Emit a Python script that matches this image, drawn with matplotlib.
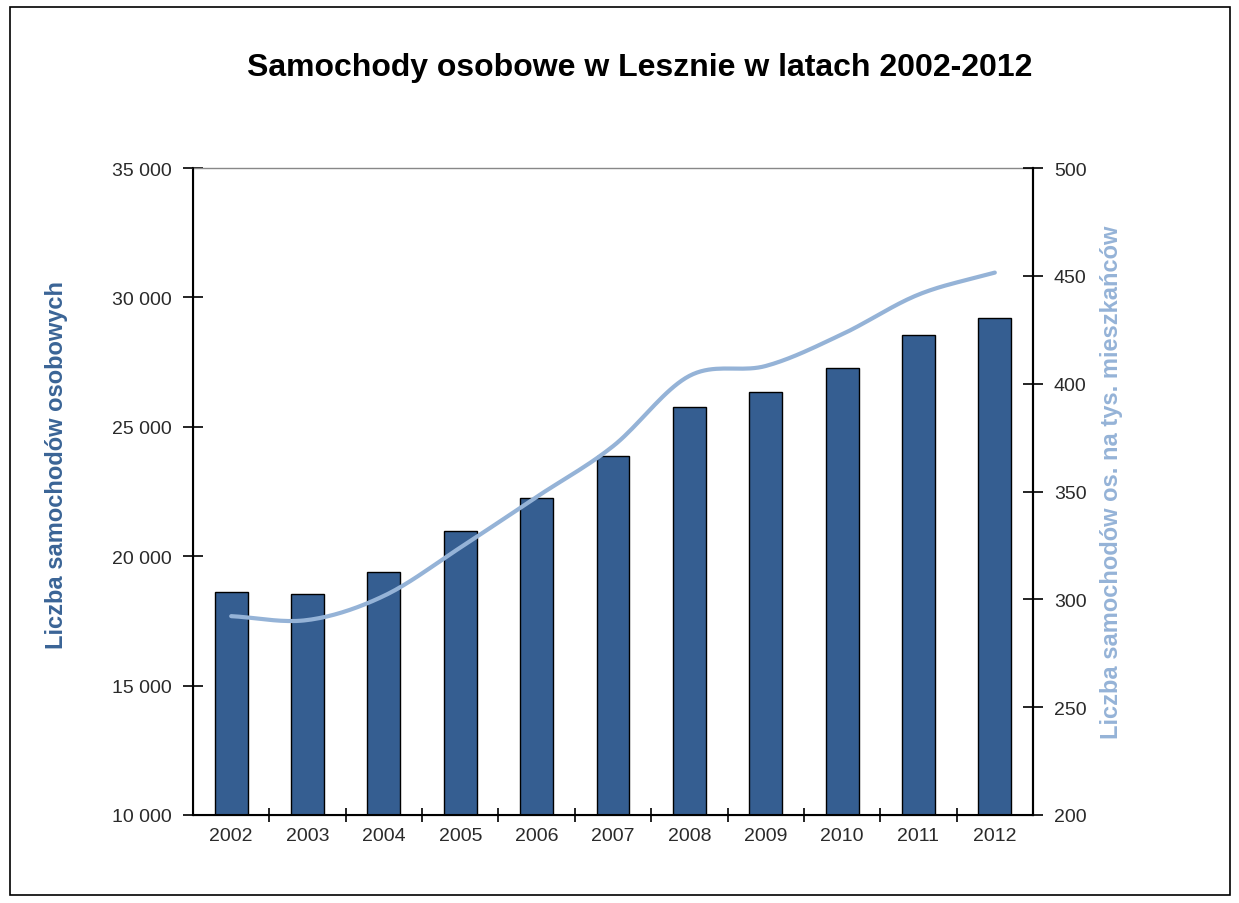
import numpy as np
import matplotlib.pyplot as plt
from matplotlib.patches import Rectangle

plt.rcParams['font.family'] = ['Liberation Sans', 'DejaVu Sans']

# Data
years = ['2002', '2003', '2004', '2005', '2006', '2007',
         '2008', '2009', '2010', '2011', '2012']
cars = [18600, 18530, 19400, 20960, 22250, 23870,
        25770, 26330, 27270, 28560, 29220]
cars_per_1000 = [292.2, 290.4, 301.6, 324.0, 347.5, 371.0,
                 403.6, 408.2, 422.9, 441.3, 451.5]

bar_color = '#355E91'
line_color = '#95B3D7'


def smooth(x, y, n=20):
    # Catmull-Rom curve through the points (like Excel smoothed line)
    x = np.asarray(x, float)
    y = np.asarray(y, float)
    px = np.concatenate([[2 * x[0] - x[1]], x, [2 * x[-1] - x[-2]]])
    py = np.concatenate([[2 * y[0] - y[1]], y, [2 * y[-1] - y[-2]]])
    xs, ys = [], []
    t = np.linspace(0, 1, n, endpoint=False)
    for i in range(1, len(px) - 2):
        for p, out in ((px, xs), (py, ys)):
            p0, p1, p2, p3 = p[i - 1], p[i], p[i + 1], p[i + 2]
            out.extend(0.5 * ((2 * p1) + (-p0 + p2) * t
                              + (2 * p0 - 5 * p1 + 4 * p2 - p3) * t ** 2
                              + (-p0 + 3 * p1 - 3 * p2 + p3) * t ** 3))
    xs.append(x[-1])
    ys.append(y[-1])
    return np.array(xs), np.array(ys)


fig = plt.figure(figsize=(12.39, 9.04), dpi=100)
fig.patches.append(Rectangle((0.008, 0.009), 0.985, 0.982, transform=fig.transFigure,
                             fill=False, edgecolor='black', linewidth=1.2))

ax = fig.add_axes([193 / 1239, 1 - 816 / 904, 840 / 1239, 647 / 904])
x = np.arange(len(years))
ax.bar(x, cars, width=0.43, color=bar_color, edgecolor='black', linewidth=1.0, zorder=2)
ax.set_xlim(-0.5, len(years) - 0.5)
ax.set_ylim(10000, 35000)
ax.set_yticks(np.arange(10000, 35001, 5000))
ax.set_yticklabels([f'{v:,}'.replace(',', ' ') for v in range(10000, 35001, 5000)])
ax.set_xticks(x)
ax.set_xticklabels(years)
ax.set_xticks(np.arange(0.5, len(years) - 1, 1), minor=True)
ax.tick_params(axis='x', which='major', length=0, labelsize=14, pad=9, colors='#2a2a2a')
ax.tick_params(axis='x', which='minor', direction='inout', length=10, width=1.2)
ax.tick_params(axis='y', direction='inout', length=14, width=1.2, labelsize=14, pad=8,
               labelcolor='#2a2a2a')
ax.spines['top'].set_color('#888888')
ax.spines['top'].set_linewidth(1.0)
for s in ('left', 'bottom', 'right'):
    ax.spines[s].set_linewidth(1.5)
ax.set_ylabel('Liczba samochodów osobowych', color='#3A6496', fontsize=17,
              fontweight='bold')
ax.yaxis.set_label_coords(-0.1488, 0.5425)

ax2 = ax.twinx()
sx, sy = smooth(x, cars_per_1000)
ax2.plot(sx, sy, color=line_color, linewidth=3, solid_capstyle='round', zorder=3)
ax2.set_ylim(200, 500)
ax2.set_yticks(np.arange(200, 501, 50))
ax2.tick_params(axis='y', direction='inout', length=14, width=1.2, labelsize=14, pad=8,
                labelcolor='#2a2a2a')
ax2.spines['right'].set_linewidth(1.5)
ax2.spines['top'].set_visible(False)
ax2.set_ylabel('Liczba samochodów os. na tys. mieszkańców', color=line_color,
               fontsize=17, fontweight='bold')
ax2.yaxis.set_label_coords(1.0798, 0.515)

fig.text(0.516, 1 - 68 / 904, 'Samochody osobowe w Lesznie w latach 2002-2012',
         ha='center', va='center', fontsize=23, fontweight='bold')

fig.savefig('out.png', dpi=100)
